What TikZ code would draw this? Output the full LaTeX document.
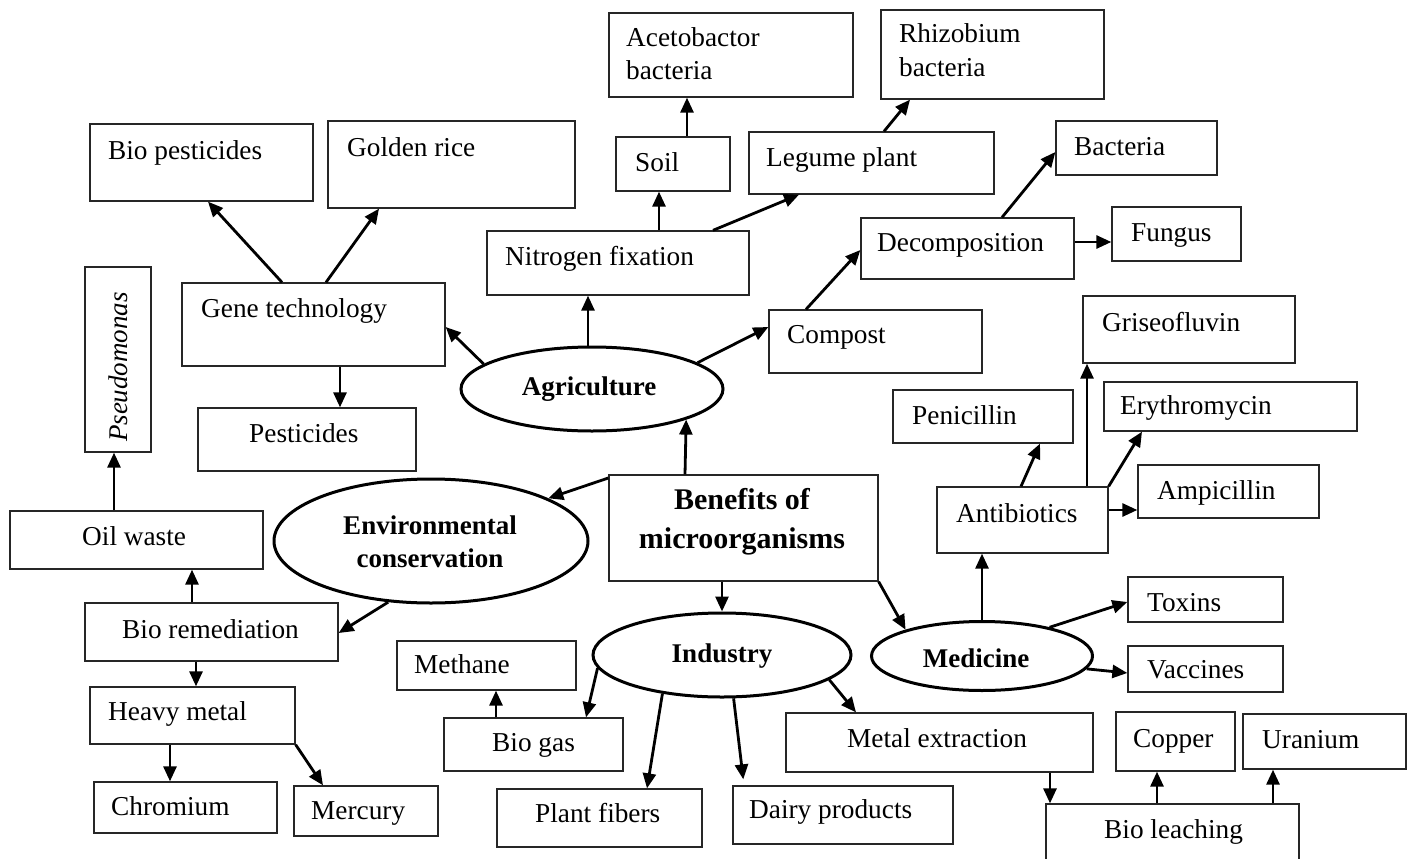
\documentclass[tikz,border=0pt]{standalone}
\usepackage{fontspec}
\setmainfont{Liberation Serif}
\usetikzlibrary{arrows.meta,shapes.geometric,fit}
\newcommand\bx[5]{\node[boxst, fit={(#2,#3) (#4,#5)}] (#1) {};}
\newcommand\tx[4]{\node[txt, anchor=base west] (#1) at (#2,#3) {#4};}
\begin{document}
\begin{tikzpicture}[x=1pt,y=-1pt,
  boxst/.style={draw=black!85, line width=1.3pt, inner sep=0pt, rectangle},
  ellst/.style={draw=black, line width=3pt, ellipse, inner sep=0pt},
  txt/.style={font=\fontsize{27.3}{32}\selectfont, inner sep=0pt},
  btxt/.style={font=\fontsize{27}{32}\selectfont\bfseries, inner sep=0pt},
  htxt/.style={font=\fontsize{30}{36}\selectfont\bfseries, inner sep=0pt},
  arr/.style={line width=2.8pt, -{Triangle[length=15pt,width=13pt]}}]
\useasboundingbox (0,0) rectangle (1413,859);
% boxes
\bx{biopest}{90}{124}{313}{201}
\bx{golden}{328}{121}{575}{208}
\bx{acetob}{609}{13}{853}{97}
\bx{rhizob}{881}{10}{1104}{99}
\bx{soil}{616}{137}{730}{191}
\bx{legume}{749}{132}{994}{194}
\bx{nitro}{487}{231}{749}{295}
\bx{decomp}{861}{218}{1074}{279}
\bx{bacteria}{1056}{121}{1217}{175}
\bx{fungus}{1112}{207}{1241}{261}
\bx{pseudo}{85}{267}{151}{452}
\bx{genetech}{182}{283}{445}{366}
\bx{pestic}{198}{408}{416}{471}
\bx{compost}{769}{310}{982}{373}
\bx{grise}{1083}{296}{1295}{363}
\bx{penic}{893}{390}{1073}{443}
\bx{erythro}{1104}{382}{1357}{431}
\bx{ampic}{1138}{465}{1319}{518}
\bx{antib}{937}{487}{1108}{553}
\bx{benefits}{609}{475}{878}{581}
\bx{oilwaste}{10}{511}{263}{569}
\bx{bioremed}{85}{603}{338}{661}
\bx{heavy}{90}{687}{295}{744}
\bx{chrom}{94}{782}{277}{833}
\bx{mercury}{294}{786}{438}{836}
\bx{methane}{397}{641}{576}{690}
\bx{biogas}{444}{718}{623}{771}
\bx{plantfib}{497}{789}{702}{847}
\bx{dairy}{733}{786}{953}{844}
\bx{metalext}{786}{713}{1093}{772}
\bx{toxins}{1128}{577}{1283}{622}
\bx{vaccines}{1128}{646}{1283}{692}
\bx{copper}{1116}{712}{1235}{771}
\bx{uranium}{1243}{714}{1406}{769}
\bx{bioleach}{1046}{804}{1299}{866}
% ellipses
\node[ellst, minimum width=262pt, minimum height=84pt] (agri) at (592,389) {};
\node[ellst, minimum width=314pt, minimum height=124pt] (env) at (431,541) {};
\node[ellst, minimum width=258pt, minimum height=84pt] (industry) at (722,655) {};
\node[ellst, minimum width=221pt, minimum height=69pt] (medicine) at (982,656) {};
% texts
\tx{biopest-t}{108}{159}{Bio pesticides}
\tx{golden-t}{347}{156}{Golden rice}
\tx{acetob-t1}{626}{47}{Acetobactor}
\tx{acetob-t2}{626}{80}{bacteria}
\tx{rhizob-t1}{899}{43}{Rhizobium}
\tx{rhizob-t2}{899}{77}{bacteria}
\tx{soil-t}{635}{171}{Soil}
\tx{legume-t}{766}{166}{Legume plant}
\tx{nitro-t}{505}{265}{Nitrogen fixation}
\tx{decomp-t}{877}{251}{Decomposition}
\tx{bacteria-t}{1074}{155}{Bacteria}
\tx{fungus-t}{1131}{241}{Fungus}
\node[txt, font=\fontsize{27}{32}\selectfont\itshape, rotate=90, anchor=center] (pseudo-t) at (118,367) {Pseudomonas};
\tx{genetech-t}{201}{317}{Gene technology}
\tx{pestic-t}{249}{442}{Pesticides}
\tx{compost-t}{787}{343}{Compost}
\tx{grise-t}{1102}{331}{Griseofluvin}
\tx{penic-t}{912}{424}{Penicillin}
\tx{erythro-t}{1120}{414}{Erythromycin}
\tx{ampic-t}{1157}{499}{Ampicillin}
\tx{antib-t}{956}{522}{Antibiotics}
\tx{oilwaste-t}{82}{545}{Oil waste}
\tx{bioremed-t}{122}{638}{Bio remediation}
\tx{heavy-t}{108}{720}{Heavy metal}
\tx{chrom-t}{111}{815}{Chromium}
\tx{mercury-t}{311}{819}{Mercury}
\tx{methane-t}{414}{673}{Methane}
\tx{biogas-t}{492}{751}{Bio gas}
\tx{plantfib-t}{535}{822}{Plant fibers}
\tx{dairy-t}{749}{818}{Dairy products}
\tx{metalext-t}{847}{747}{Metal extraction}
\tx{toxins-t}{1147}{611}{Toxins}
\tx{vaccines-t}{1147}{678}{Vaccines}
\tx{copper-t}{1133}{747}{Copper}
\tx{uranium-t}{1262}{748}{Uranium}
\tx{bioleach-t}{1104}{838}{Bio leaching}
\node[btxt, anchor=base] (agri-t) at (589,395) {Agriculture};
\node[btxt, anchor=base] (env-t1) at (430,534) {Environmental};
\node[btxt, anchor=base] (env-t2) at (430,567) {conservation};
\node[btxt, anchor=base] (industry-t) at (722,662) {Industry};
\node[btxt, anchor=base] (medicine-t) at (976,667) {Medicine};
\node[htxt, anchor=base] (benefits-t1) at (742,509) {Benefits of};
\node[htxt, anchor=base] (benefits-t2) at (742,548) {microorganisms};
% arrows
\draw[arr] (282,0 |- genetech.north) -- (208,0 |- biopest.south);
\draw[arr] (326,0 |- genetech.north) -- (379,0 |- golden.south);
\draw[arr] (340,0 |- genetech.south) -- (340,0 |- pestic.north);
\draw[arr] (agri.167) -- (genetech.east |- 0,327);
\draw[arr] (588,0 |- agri.north) -- (588,0 |- nitro.south);
\draw[arr] (659,0 |- nitro.north) -- (659,0 |- soil.south);
\draw[arr] (713,0 |- nitro.north) -- (799,0 |- legume.south);
\draw[arr] (687,0 |- soil.north) -- (687,0 |- acetob.south);
\draw[arr] (884,0 |- legume.north) -- (910,0 |- rhizob.south);
\draw[arr] (agri.14) -- (compost.west |- 0,327);
\draw[arr] (806,0 |- compost.north) -- (decomp.west |- 0,250);
\draw[arr] (1002,0 |- decomp.north) -- (bacteria.west |- 0,152);
\draw[arr] (decomp.east |- 0,242) -- (fungus.west |- 0,242);
\draw[arr] (685,0 |- benefits.north) -- (agri.342);
\draw[arr] (benefits.west |- 0,478) -- (env.20);
\draw[arr] (env.235) -- (bioremed.east |- 0,633);
\draw[arr] (192,0 |- bioremed.north) -- (192,0 |- oilwaste.south);
\draw[arr] (114,0 |- oilwaste.north) -- (114,0 |- pseudo.south);
\draw[arr] (196,0 |- bioremed.south) -- (196,0 |- heavy.north);
\draw[arr] (170,0 |- heavy.south) -- (170,0 |- chrom.north);
\draw[arr] (heavy.south east) -- (323,0 |- mercury.north);
\draw[arr] (722,0 |- benefits.south) -- (industry.north);
\draw[arr] (benefits.south east) -- (medicine.161);
\draw[arr] (industry.186) -- (586,0 |- biogas.north);
\draw[arr] (496,0 |- biogas.north) -- (496,0 |- methane.south);
\draw[arr] (industry.213) -- (647,0 |- plantfib.north);
\draw[arr, shorten >=6pt] (industry.285) -- (744,0 |- dairy.north);
\draw[arr] (industry.347) -- (856,0 |- metalext.north);
\draw[arr] (medicine.north) -- (982,0 |- antib.south);
\draw[arr] (medicine.23) -- (toxins.west |- 0,602);
\draw[arr] (medicine.353) -- (vaccines.west |- 0,673);
\draw[arr] (1050,0 |- metalext.south) -- (1050,0 |- bioleach.north);
\draw[arr] (1157,0 |- bioleach.north) -- (1157,0 |- copper.south);
\draw[arr] (1273,0 |- bioleach.north) -- (1273,0 |- uranium.south);
\draw[arr] (1021,0 |- antib.north) -- (1040,0 |- penic.south);
\draw[arr] (1087,0 |- antib.north) -- (1087,0 |- grise.south);
\draw[arr] (antib.north east) -- (1142,0 |- erythro.south);
\draw[arr] (antib.east |- 0,510) -- (ampic.west |- 0,510);
\end{tikzpicture}
\end{document}
